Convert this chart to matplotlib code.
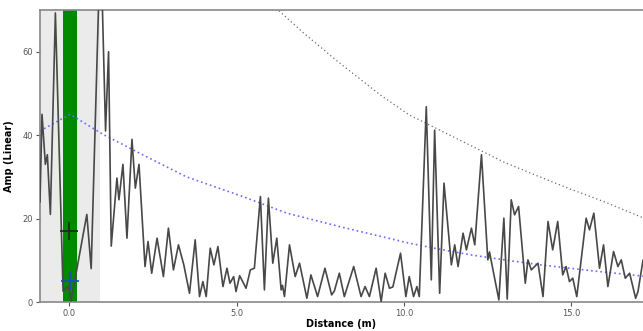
import matplotlib
matplotlib.use("Agg")
import matplotlib.pyplot as plt

# signal trace: peaks and troughs
dist = [-0.88, -0.82, -0.72, -0.66, -0.57, -0.42, -0.19, -0.04, 0.05, 0.52,
        0.65, 0.93, 1.08, 1.17, 1.25, 1.42, 1.48, 1.60, 1.72, 1.87,
        1.97, 2.08, 2.26, 2.35, 2.46, 2.62, 2.81, 2.96, 3.11, 3.26,
        3.42, 3.59, 3.76, 3.89, 3.99, 4.09, 4.21, 4.32, 4.44, 4.59,
        4.71, 4.80, 4.91, 4.98, 5.09, 5.28, 5.41, 5.53, 5.71, 5.83,
        5.95, 6.08, 6.20, 6.33, 6.37, 6.43, 6.58, 6.75, 6.88, 7.10,
        7.22, 7.42, 7.64, 7.84, 7.92, 8.07, 8.22, 8.50, 8.72, 8.84,
        8.97, 9.17, 9.32, 9.44, 9.57, 9.67, 9.90, 10.06, 10.16, 10.29,
        10.39, 10.46, 10.67, 10.82, 10.92, 11.07, 11.20, 11.42, 11.52, 11.62,
        11.77, 11.87, 12.02, 12.12, 12.32, 12.51, 12.56, 12.84, 12.99, 13.09,
        13.21, 13.31, 13.43, 13.63, 13.71, 13.81, 14.01, 14.16, 14.31, 14.45,
        14.60, 14.75, 14.85, 14.95, 15.05, 15.17, 15.45, 15.55, 15.68, 15.85,
        15.97, 16.10, 16.27, 16.40, 16.50, 16.62, 16.75, 16.93, 17.00, 17.15]
amp = [24, 45, 33, 35.3, 21, 69.3, 2.6, 3.8, 0.3, 21,
       8, 88, 41, 60, 13.4, 29.7, 24.5, 33, 15.3, 39,
       27.3, 33, 8.5, 14.5, 6.9, 15.3, 6.1, 17.7, 7.7, 13.7,
       8.9, 2.1, 14.9, 1.3, 4.9, 1.3, 12.9, 8.9, 13.3, 3.7,
       8.1, 4.5, 6.1, 2.5, 6.3, 3.3, 7.7, 8.1, 25.3, 2.9,
       24.9, 9.3, 15.3, 2.9, 4.0, 1.3, 13.7, 6.1, 9.3, 0.9,
       6.5, 1.3, 8.1, 1.7, 2.6, 6.9, 1.3, 8.5, 1.3, 3.7,
       1.3, 8.1, 0.1, 6.9, 3.3, 3.6, 11.7, 1.3, 6.1, 1.3,
       3.7, 1.3, 46.8, 5.3, 41.2, 2.1, 28.5, 8.9, 13.7, 8.5,
       16.5, 12.5, 17.7, 13.7, 35.3, 10.1, 12, 0.5, 20.1, 0.7,
       24.5, 20.9, 22.9, 4.5, 10.1, 7.7, 9.3, 1.3, 19.3, 12.5,
       19.3, 6.5, 8.5, 4.9, 5.7, 1.3, 20.1, 17.3, 21.3, 8.1,
       13.7, 3.7, 12.1, 8.5, 10.1, 5.7, 6.9, 0.9, 2.5, 10]

# blue dotted threshold curve
blue_d = [-0.88, 0.02, 1.0, 2.19, 3.5, 5.18, 6.5, 8.17, 10.16, 11.17, 12.0, 13.01, 14.0, 15.6, 17.15]
blue_a = [41, 45, 40.2, 35.3, 30.0, 25.3, 21.3, 17.9, 14.1, 12.5, 11.3, 10.1, 9.0, 7.5, 6.2]

# grey dotted curve
grey_d = [5.9, 6.24, 7.0, 8.0, 9.3, 10.17, 11.0, 12.0, 13.0, 14.0, 15.0, 16.0, 17.15]
grey_a = [73, 70, 64.5, 57.8, 49.6, 44.8, 41.5, 37.5, 33.5, 30.2, 27.0, 24.0, 20.2]

# cursor markers
mark_d = [0.0, 0.03]
mark_a = [17, 5]

fig = plt.figure(figsize=(6.43, 3.31), dpi=100)
ax = fig.add_axes([40/643, 29/331, 603/643, 292/331])

ax.axvspan(-0.88, 0.9, color='#ebebeb', lw=0, zorder=0)
ax.axvspan(-0.18, 0.23, color='#008a00', lw=0, zorder=1)

ax.plot(grey_d, grey_a, color='#6a6a6a', lw=0.9, ls=(0, (1.0, 2.2)), zorder=2)
ax.plot(blue_d, blue_a, color='#6a6aff', lw=1.2, ls=(0, (1.0, 1.8)), zorder=2)
ax.plot(dist, amp, color='#484848', lw=1.2, zorder=3, solid_joinstyle='round')

ax.plot(mark_d[0], mark_a[0], marker='+', ms=13, mew=1.2, color='#222222', zorder=4)
ax.plot(mark_d[1], mark_a[1], marker='+', ms=13, mew=1.2, color='#2244cc', zorder=4)

ax.set_xlim(-0.88, 17.15)
ax.set_ylim(0, 70)
ax.set_xticks([0, 5, 10, 15])
ax.set_xticklabels(['0.0', '5.0', '10.0', '15.0'])
ax.set_yticks([0, 20, 40, 60])
ax.tick_params(labelsize=6, colors='#555555', length=3, width=0.8, pad=2)

for s in ['left', 'bottom', 'top']:
    ax.spines[s].set_color('#888888')
    ax.spines[s].set_linewidth(1.2)
ax.spines['right'].set_visible(False)

ax.set_xlabel('Distance (m)', fontsize=7, fontweight='bold', labelpad=1)
ax.set_ylabel('Amp (Linear)', fontsize=7, fontweight='bold', labelpad=6)

fig.savefig('out.png', dpi=100)
